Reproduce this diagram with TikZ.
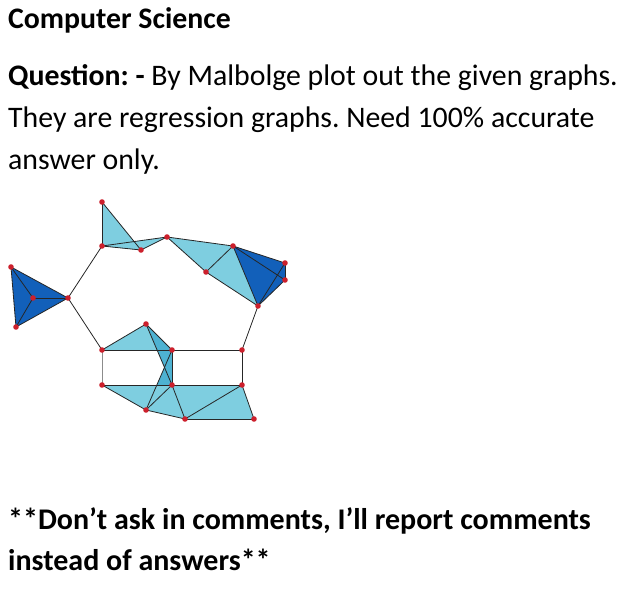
\documentclass[tikz,border=0pt]{standalone}
\usepackage{fontspec}
\setmainfont{Carlito}
\usetikzlibrary{positioning}
\frenchspacing
\definecolor{lightblue}{RGB}{126,206,224}
\definecolor{midblue}{RGB}{78,178,210}
\definecolor{darkblue}{RGB}{18,96,186}
\definecolor{dotred}{RGB}{204,32,44}
\tikzset{
  vtx/.style={circle, inner sep=0pt, minimum size=5pt},
  light/.style={fill=lightblue},
  mid/.style={fill=midblue},
  dark/.style={fill=darkblue},
  edge/.style={draw=black!85, line width=0.8pt},
  txt/.style={anchor=base west, inner sep=0pt, font=\fontsize{29.8}{34}\selectfont},
  bigtxt/.style={anchor=base west, inner sep=0pt, font=\fontsize{30}{36}\selectfont\bfseries},
}
\begin{document}
\begin{tikzpicture}[x=1pt, y=-1pt]
  \useasboundingbox (0,0) rectangle (632,591);
  % text
  \node[txt] (head) at (8,29) {\bfseries Computer Science}; %
  \node[txt] (q1) at (8,86) {\textbf{Question: -} By Malbolge plot out the given graphs.}; %
  \node[txt] (q2) at (8,128) {They are regression graphs. Need 100\% accurate}; %
  \node[txt] (q3) at (8,169) {answer only.}; %
  \node[bigtxt] (n1) at (8,529) {**Don’t ask in comments, I’ll report comments}; %
  \node[bigtxt] (n2) at (8,570) {instead of answers**}; %

  % vertices
  \node[vtx] (l1) at (11,267) {}; %
  \node[vtx] (l2) at (33,298) {}; %
  \node[vtx] (l3) at (16,327) {}; %
  \node[vtx] (l4) at (68,298) {}; %
  \node[vtx] (a) at (102,202) {}; %
  \node[vtx] (b) at (102,246) {}; %
  \node[vtx] (c) at (141,250) {}; %
  \node[vtx] (d) at (167,237) {}; %
  \node[vtx] (e) at (206,272) {}; %
  \node[vtx] (f) at (233,246) {}; %
  \node[vtx] (g) at (285,263) {}; %
  \node[vtx] (h) at (285,280) {}; %
  \node[vtx] (i) at (258,306) {}; %
  \node[vtx] (j) at (146,324) {}; %
  \node[vtx] (k) at (102,350) {}; %
  \node[vtx] (m) at (172,350) {}; %
  \node[vtx] (n) at (242,350) {}; %
  \node[vtx] (p) at (102,385) {}; %
  \node[vtx] (q) at (172,385) {}; %
  \node[vtx] (r) at (242,385) {}; %
  \node[vtx] (s) at (146,410) {}; %
  \node[vtx] (t) at (185,419) {}; %
  \node[vtx] (u) at (254,419) {}; %

  % faces
  \fill[dark] (l1.center) -- (l4.center) -- (l3.center) -- cycle; %
  \fill[light] (a.center) -- (b.center) -- (c.center) -- cycle; %
  \fill[light] (b.center) -- (c.center) -- (d.center) -- cycle; %
  \fill[light] (d.center) -- (f.center) -- (e.center) -- cycle; %
  \fill[light] (e.center) -- (f.center) -- (i.center) -- cycle; %
  \fill[dark] (f.center) -- (g.center) -- (h.center) -- (i.center) -- cycle; %
  \fill[light] (k.center) -- (j.center) -- (m.center) -- cycle; %
  \fill[mid] (j.center) -- (m.center) -- (q.center) -- cycle; %
  \fill[mid] (m.center) -- (q.center) -- (s.center) -- cycle; %
  \fill[light] (p.center) -- (q.center) -- (s.center) -- cycle; %
  \fill[light] (s.center) -- (q.center) -- (t.center) -- cycle; %
  \fill[light] (q.center) -- (r.center) -- (t.center) -- cycle; %
  \fill[light] (r.center) -- (u.center) -- (t.center) -- cycle; %

  % edges
  \foreach \x/\y in {l1/l3, l3/l4, l4/l1, l2/l1, l2/l3, l2/l4, l4/b, l4/k,
      a/b, a/c, b/c, b/d, c/d, d/e, d/f, e/f, e/i, f/i, f/g, g/h, h/i, f/h, g/i, i/n,
      k/j, j/m, k/m, j/q, m/s, m/q, m/n, n/r,
      p/q, q/r, p/s, s/q, s/t, q/t, r/t, r/u, t/u}
    \draw[edge] (\x.center) -- (\y.center); %
  \draw[edge, draw=black!45] (k.center) -- (p.center); %

  % dots on top
  \foreach \v in {l1,l2,l3,l4,a,b,c,d,e,f,g,h,i,j,k,m,n,p,q,r,s,t,u}
    \fill[dotred] (\v) circle (2.8pt); %
\end{tikzpicture}
\end{document}
